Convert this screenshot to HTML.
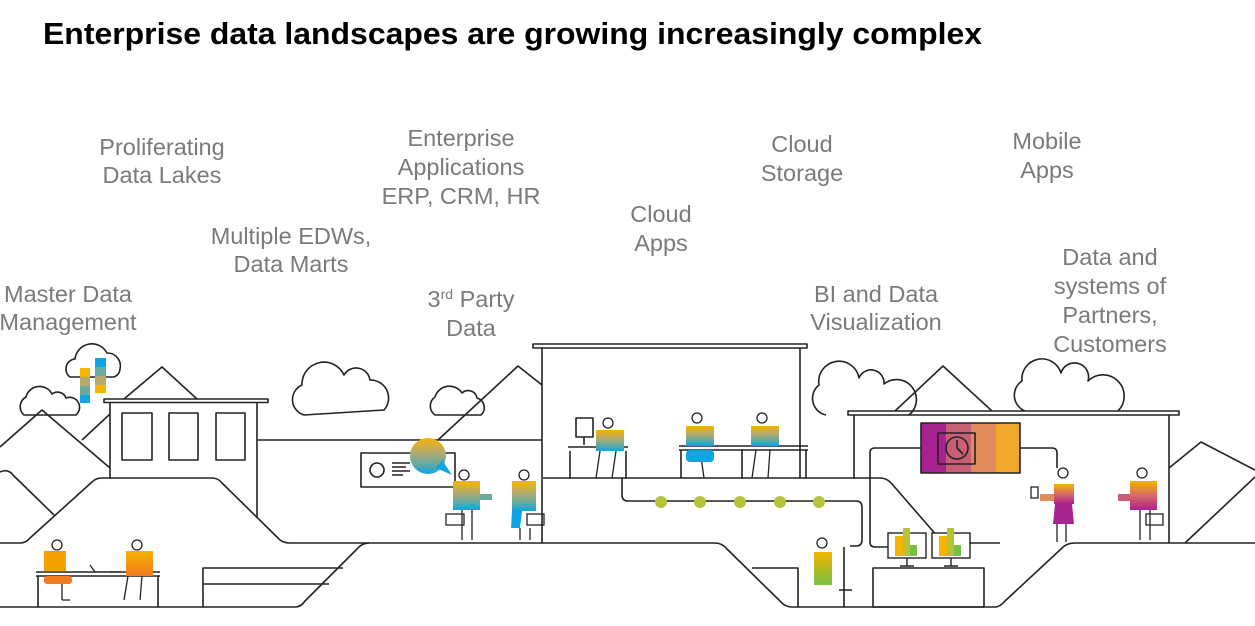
<!DOCTYPE html>
<html><head><meta charset="utf-8"><style>
html,body{margin:0;padding:0;background:#fff;}
svg{display:block;}
.t{font-family:"Liberation Sans",Arial,sans-serif;font-size:23.5px;fill:#7a7a7a;text-anchor:middle;}
.l{fill:none;stroke:#222;stroke-width:1.6;stroke-linejoin:round;}
</style></head><body>
<svg width="1255" height="626" viewBox="0 0 1255 626" xmlns="http://www.w3.org/2000/svg">
<text x="43" y="44" font-family="Liberation Sans,Arial,sans-serif" font-weight="bold" font-size="31" textLength="939" lengthAdjust="spacingAndGlyphs" fill="#000">Enterprise data landscapes are growing increasingly complex</text>

<g class="t">
<text x="162" y="155">Proliferating</text><text x="162" y="183">Data Lakes</text>
<text x="461" y="146">Enterprise</text><text x="461" y="175">Applications</text><text x="461" y="204">ERP, CRM, HR</text>
<text x="802" y="152">Cloud</text><text x="802" y="181">Storage</text>
<text x="1047" y="149">Mobile</text><text x="1047" y="178">Apps</text>
<text x="661" y="222">Cloud</text><text x="661" y="251">Apps</text>
<text x="291" y="244">Multiple EDWs,</text><text x="291" y="272">Data Marts</text>
<text x="68" y="302">Master Data</text><text x="68" y="330">Management</text>
<text x="471" y="307">3<tspan font-size="14" dy="-8">rd</tspan><tspan dy="8"> Party</tspan></text><text x="471" y="336">Data</text>
<text x="876" y="302">BI and Data</text><text x="876" y="330">Visualization</text>
<text x="1110" y="265">Data and</text><text x="1110" y="294">systems of</text><text x="1110" y="323">Partners,</text><text x="1110" y="352">Customers</text>
</g>

<g class="l">
<path d="M24,415 a11,11 0 0 1 2,-18 a14,14 0 0 1 26,-3 a9,9 0 0 1 14,4 a10,10 0 0 1 10,17 z"/>
<path d="M70,377 a10,10 0 0 1 5,-18 a17,17 0 0 1 32,-6 a13,13 0 0 1 13,16 a9,9 0 0 1 -6,8 z"/>
<path d="M304,415 a16,16 0 0 1 -2,-30 a22,22 0 0 1 42,-10 a14,14 0 0 1 26,5 a18,18 0 0 1 14,30 z"/>
<path d="M435,415 a11,11 0 0 1 0,-18 a15,15 0 0 1 27,-4 a9,9 0 0 1 15,5 a10,10 0 0 1 4,17 z"/>
<path d="M826,415 a17,17 0 0 1 -7,-30 a20,20 0 0 1 40,-7 a13,13 0 0 1 25,6 a17,17 0 0 1 25,31"/>
<path d="M1025,411 a17,17 0 0 1 -3,-30 a20,20 0 0 1 39,-8 a13,13 0 0 1 27,8 a17,17 0 0 1 30,30"/>
<path d="M0,447 L42,410 L110,468"/>
<path d="M82,440 L110,414"/>
<path d="M124,399 L162,367 L197,399"/>
<path d="M438,440 L518,366 L542,385"/>
<path d="M895,411 L943,366 L992,411"/>
<path d="M1169,468 L1201,442 L1255,470"/>
<path d="M1185,543 L1255,477"/>
<path d="M0,472 Q8,468 14,476 L54,515"/>
<path d="M0,543 L20,543 Q26,543 30,538 L92,482 Q96,478 102,478 L212,478 Q218,478 222,483 L278,538 Q282,543 290,543 L715,543 Q722,543 727,549 L780,601 Q785,607 792,607 L995,607 Q1000,607 1005,601 L1061,549 Q1066,543 1075,543 L1255,543"/>
<path d="M0,607 L295,607 Q301,607 305,601 L357,549 Q362,543 369,543"/>
<path d="M543,478 L880,478 Q887,478 892,484 L938,537 Q943,543 950,543 L1000,543"/>
<rect x="104" y="399" width="164" height="3.5"/>
<path d="M110,403 L110,478 M257,403 L257,518"/>
<rect x="122" y="413" width="30" height="47"/><rect x="169" y="413" width="29" height="47"/><rect x="216" y="413" width="29" height="47"/>
<path d="M257,440 L542,440"/>
<path d="M203,607 L203,568 L343,568 M203,584 L329,584"/>
<path d="M752,568 L798,568 L798,607"/>
<rect x="873" y="568" width="111" height="39"/>
<rect x="533" y="344" width="274" height="4"/>
<path d="M542,348 L542,543 M800,348 L800,478"/>
<rect x="848" y="411" width="331" height="4"/>
<path d="M854,415 L854,478 M1169,415 L1169,543"/>
<path d="M622,478 L622,495 Q622,501 628,501 L856,501 Q862,501 862,507 L862,540 Q862,546 856,546 L850,546"/>
<path d="M921,448 L875,448 Q870,448 870,453 L870,542 Q870,547 875,547 L888,547"/>
<path d="M1020,448 L1052,448 Q1057,448 1057,453 L1057,468"/>
<rect x="361" y="453" width="94" height="34"/>
<circle cx="377" cy="470" r="7"/>
<path d="M392,463 H410 M392,467 H406 M392,471 H410 M392,475 H403"/>
<path d="M36,572 H160 M36,576 H160 M38,576 V607 M158,576 V607"/>
<path d="M568,447 H628 M570,451 V478 M626,451 V478"/>
<path d="M576,418 H593 V437 H576 Z M584,437 V445"/>
<path d="M679,446 H808 M679,450 H808 M681,450 V478 M742,450 V478 M806,450 V478"/>
<path d="M844,547 V590 M839,590 H852 M844,590 V607"/>
</g>

<rect x="80" y="368" width="10" height="9" fill="#f5b400"/><rect x="80" y="377" width="10" height="9" fill="#b5ab6e"/><rect x="80" y="386" width="10" height="9" fill="#6aab9c"/><rect x="80" y="395" width="10" height="8" fill="#0fa5e4"/>
<rect x="95" y="358" width="11" height="9" fill="#0fa5e4"/><rect x="95" y="367" width="11" height="9" fill="#6aab9c"/><rect x="95" y="376" width="11" height="9" fill="#b5ab6e"/><rect x="95" y="385" width="11" height="8" fill="#f5b400"/>

<defs>
<linearGradient id="g1" x1="0" y1="0" x2="0" y2="1"><stop offset="0" stop-color="#f5b400"/><stop offset=".4" stop-color="#b5ab6e"/><stop offset=".7" stop-color="#6aab9c"/><stop offset="1" stop-color="#0fa5e4"/></linearGradient>
<linearGradient id="g2" x1="0" y1="0" x2="0" y2="1"><stop offset="0" stop-color="#f5b400"/><stop offset="1" stop-color="#f07a20"/></linearGradient>
<linearGradient id="g3" x1="0" y1="0" x2="0" y2="1"><stop offset="0" stop-color="#f5b400"/><stop offset="1" stop-color="#78c043"/></linearGradient>
<linearGradient id="g4" x1="0" y1="0" x2="0" y2="1"><stop offset="0" stop-color="#f5b400"/><stop offset=".5" stop-color="#d96a6a"/><stop offset="1" stop-color="#b01e8c"/></linearGradient>
</defs>
<circle cx="428" cy="456" r="18" fill="url(#g1)"/><path d="M436,468 L452,475 L442,460 Z" fill="#0fa5e4"/>

<g stroke="#222" stroke-width="1.3" fill="none">
<circle cx="57" cy="545" r="5"/><circle cx="137" cy="545" r="5"/>
<circle cx="464" cy="475" r="5"/><circle cx="524" cy="475" r="5"/>
<circle cx="608" cy="423" r="5"/><circle cx="697" cy="418" r="5"/><circle cx="762" cy="418" r="5"/>
<circle cx="822" cy="543" r="5"/>
<circle cx="1063" cy="473" r="5"/><circle cx="1142" cy="473" r="5"/>
<path d="M62,600 V576 M62,600 H70 M128,576 L124,600 M142,576 L140,600"/>
<path d="M462,510 V540 M472,510 V540 M520,528 V540 M530,528 V540"/>
<path d="M600,451 L596,478 M616,451 L612,478 M700,450 L704,478 M756,450 L752,478 M770,450 L768,478"/>
<path d="M1057,524 V542 M1066,524 V542 M1140,510 V540 M1150,510 V540"/>
<rect x="446" y="514" width="18" height="11"/><rect x="527" y="514" width="17" height="11"/><rect x="1146" y="514" width="17" height="11"/>
<rect x="1031" y="487" width="7" height="11"/>
<path d="M90,565 L95,572 M110,572 H120"/>
</g>
<rect x="44" y="551" width="22" height="20" fill="#f5a000"/><rect x="44" y="576" width="28" height="8" rx="3" fill="#f07a20"/>
<rect x="126" y="551" width="27" height="25" fill="url(#g2)"/>
<rect x="453" y="481" width="27" height="29" fill="url(#g1)"/><rect x="480" y="494" width="12" height="6" fill="#6aab9c"/>
<rect x="512" y="481" width="24" height="30" fill="url(#g1)"/><path d="M512,511 H522 L520,528 H511 Z" fill="#0fa5e4"/>
<rect x="596" y="430" width="28" height="21" fill="url(#g1)"/>
<rect x="686" y="426" width="28" height="20" fill="url(#g1)"/><rect x="686" y="450" width="28" height="12" rx="4" fill="#0fa5e4"/>
<rect x="751" y="426" width="28" height="20" fill="url(#g1)"/>
<rect x="814" y="552" width="18" height="33" fill="url(#g3)"/>
<rect x="1054" y="484" width="20" height="20" fill="url(#g4)"/><rect x="1040" y="494" width="14" height="7" fill="#e08b5a"/><path d="M1055,504 H1072 L1074,524 H1053 Z" fill="#a8238f"/>
<rect x="1130" y="481" width="27" height="29" fill="url(#g4)"/><rect x="1118" y="494" width="12" height="7" fill="#c95f74"/>

<g fill="#b5c23a"><circle cx="661" cy="502" r="6"/><circle cx="700" cy="502" r="6"/><circle cx="740" cy="502" r="6"/><circle cx="780" cy="502" r="6"/><circle cx="819" cy="502" r="6"/></g>

<rect x="921" y="423" width="25" height="50" fill="#a8238f"/><rect x="946" y="423" width="25" height="50" fill="#c95f74"/><rect x="971" y="423" width="25" height="50" fill="#e08b5a"/><rect x="996" y="423" width="24" height="50" fill="#efa82a"/>
<g class="l"><rect x="921" y="423" width="99" height="50"/><rect x="938" y="433" width="37" height="31"/><circle cx="957" cy="448" r="11"/><path d="M957,440 V448 L963,454"/></g>

<g>
<rect x="888" y="533" width="38" height="25" fill="#fff" stroke="#222" stroke-width="1.4"/>
<rect x="895" y="536" width="8" height="20" fill="#f5b400"/><rect x="903" y="528" width="7" height="28" fill="#b5c23a"/><rect x="910" y="545" width="7" height="11" fill="#78c043"/>
<path d="M907,558 V566 M900,566 H914" stroke="#222" stroke-width="1.4"/>
<rect x="932" y="533" width="38" height="25" fill="#fff" stroke="#222" stroke-width="1.4"/>
<rect x="939" y="536" width="8" height="20" fill="#f5b400"/><rect x="947" y="528" width="7" height="28" fill="#b5c23a"/><rect x="954" y="545" width="7" height="11" fill="#78c043"/>
<path d="M951,558 V566 M944,566 H958" stroke="#222" stroke-width="1.4"/>
</g>
</svg>
</body></html>
